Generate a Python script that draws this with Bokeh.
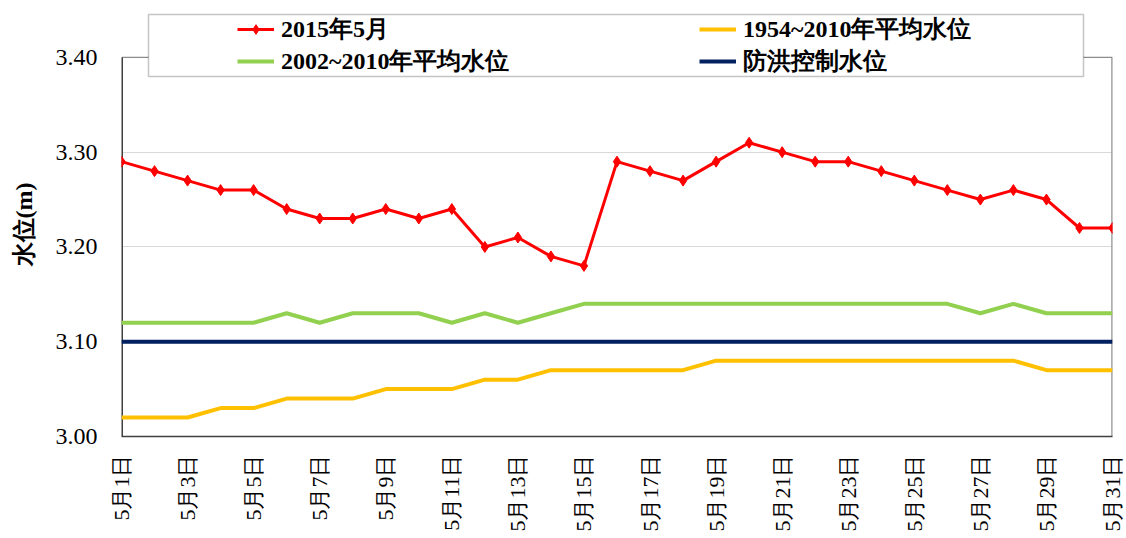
from bokeh.plotting import figure
from bokeh.models import (Range1d, FixedTicker, NumeralTickFormatter, Legend, LegendItem,
                          BoxAnnotation, Span)
from bokeh.embed import file_html
from bokeh.resources import INLINE

days = list(range(1, 32))
tick_days = list(range(1, 32, 2))
tick_labels = [f"5月{d}日" for d in tick_days]

level_2015 = [3.29, 3.28, 3.27, 3.26, 3.26, 3.24, 3.23, 3.23, 3.24, 3.23, 3.24, 3.20, 3.21, 3.19, 3.18,
              3.29, 3.28, 3.27, 3.29, 3.31, 3.30, 3.29, 3.29, 3.28, 3.27, 3.26, 3.25, 3.26, 3.25, 3.22, 3.22]
avg_1954_2010 = [3.02, 3.02, 3.02, 3.03, 3.03, 3.04, 3.04, 3.04, 3.05, 3.05, 3.05, 3.06, 3.06, 3.07, 3.07,
                 3.07, 3.07, 3.07, 3.08, 3.08, 3.08, 3.08, 3.08, 3.08, 3.08, 3.08, 3.08, 3.08, 3.07, 3.07, 3.07]
avg_2002_2010 = [3.12, 3.12, 3.12, 3.12, 3.12, 3.13, 3.12, 3.13, 3.13, 3.13, 3.12, 3.13, 3.12, 3.13, 3.14,
                 3.14, 3.14, 3.14, 3.14, 3.14, 3.14, 3.14, 3.14, 3.14, 3.14, 3.14, 3.13, 3.14, 3.13, 3.13, 3.13]
flood_control = [3.10] * 31

series_names = ["2015年5月", "1954~2010年平均水位", "2002~2010年平均水位", "防洪控制水位"]
y_ticks = [3.0, 3.1, 3.2, 3.3, 3.4]
y_min, y_max = y_ticks[0], y_ticks[-1]
x_min, x_max = days[0], days[-1]

FONT = "Liberation Serif"
PX_PER_UNIT = 950.0          # 95 px per 0.1 m
HEADROOM = 45 / PX_PER_UNIT  # room above 3.40 for the legend box

p = figure(width=1126, height=538, output_backend="svg", toolbar_location=None,
           x_range=Range1d(x_min, x_max), y_range=Range1d(y_min, y_max + HEADROOM),
           min_border_left=121, min_border_right=14, min_border_top=12, min_border_bottom=102)
p.background_fill_color = "white"
p.border_fill_color = "white"
p.outline_line_color = None

# axes
p.xaxis.ticker = FixedTicker(ticks=tick_days)
p.xaxis.major_label_overrides = {d: l for d, l in zip(tick_days, tick_labels)}
p.xaxis.major_label_orientation = 3.14159265 / 2
p.xaxis.major_label_text_font = FONT
p.xaxis.major_label_text_font_size = "22px"
p.xaxis.major_label_text_color = "black"
p.xaxis.major_label_standoff = 18
p.xaxis.major_tick_out = 0
p.xaxis.major_tick_in = 0
p.xaxis.minor_tick_out = 0
p.xaxis.minor_tick_in = 0
p.xaxis.axis_line_color = "#404040"
p.xaxis.axis_line_width = 1.5

p.yaxis.ticker = FixedTicker(ticks=y_ticks)
p.yaxis.formatter = NumeralTickFormatter(format="0.00")
p.yaxis.major_label_text_font = FONT
p.yaxis.major_label_text_font_size = "24px"
p.yaxis.major_label_text_color = "black"
p.yaxis.major_label_standoff = 24
p.yaxis.major_tick_out = 0
p.yaxis.major_tick_in = 0
p.yaxis.minor_tick_out = 0
p.yaxis.minor_tick_in = 0
p.yaxis.axis_line_color = None
p.yaxis.axis_label = "水位(m)"
p.yaxis.axis_label_text_font = FONT
p.yaxis.axis_label_text_font_size = "24px"
p.yaxis.axis_label_text_font_style = "bold"
p.yaxis.axis_label_text_color = "black"
p.yaxis.axis_label_standoff = 16

p.xgrid.visible = False
p.ygrid.ticker = FixedTicker(ticks=y_ticks[1:-1])
p.ygrid.grid_line_color = "#d9d9d9"
p.ygrid.grid_line_width = 1

# plot-area frame (top edge at 3.40, left and right edges between 3.00 and 3.40)
p.add_layout(Span(location=y_max, dimension="width", line_color="#8c8c8c", line_width=1.2,
                  level="underlay"))
p.segment(x0=[x_min], y0=[y_min], x1=[x_min], y1=[y_max], line_color="#404040", line_width=3)
p.segment(x0=[x_max], y0=[y_min], x1=[x_max], y1=[y_max], line_color="#8c8c8c", line_width=2.4)

# series
r_yellow = p.line(days, avg_1954_2010, line_color="#FFC000", line_width=4)
r_green = p.line(days, avg_2002_2010, line_color="#92D050", line_width=4)
r_blue = p.line(days, flood_control, line_color="#002060", line_width=4)
r_red = p.line(days, level_2015, line_color="#FF0000", line_width=3)
r_red_pts = p.scatter(days, level_2015, marker="diamond", size=11, fill_color="#FF0000",
                      line_color="#FF0000")

# legend box (white, bordered)
box = BoxAnnotation(left=148, right=1083, top=14, bottom=76,
                    left_units="canvas", right_units="canvas", top_units="canvas", bottom_units="canvas",
                    fill_color="white", fill_alpha=1.0, line_color="#404040", line_width=1.5,
                    level="annotation")
p.add_layout(box)

legend = Legend(items=[
    LegendItem(label=series_names[0], renderers=[r_red, r_red_pts]),
    LegendItem(label=series_names[2], renderers=[r_green]),
    LegendItem(label=series_names[1], renderers=[r_yellow]),
    LegendItem(label=series_names[3], renderers=[r_blue]),
], ncols=2, location=(112, 355))
legend.label_text_font = FONT
legend.label_text_font_size = "24px"
legend.label_text_font_style = "bold"
legend.label_text_color = "black"
legend.glyph_width = 37
legend.glyph_height = 24
legend.label_height = 24
legend.label_width = 418
legend.label_standoff = 7
legend.spacing = 0
legend.padding = 4
legend.margin = 0
legend.border_line_alpha = 0
legend.background_fill_alpha = 0
legend.level = "overlay"
p.add_layout(legend, "center")

open("out.html", "w").write(file_html(p, INLINE))
